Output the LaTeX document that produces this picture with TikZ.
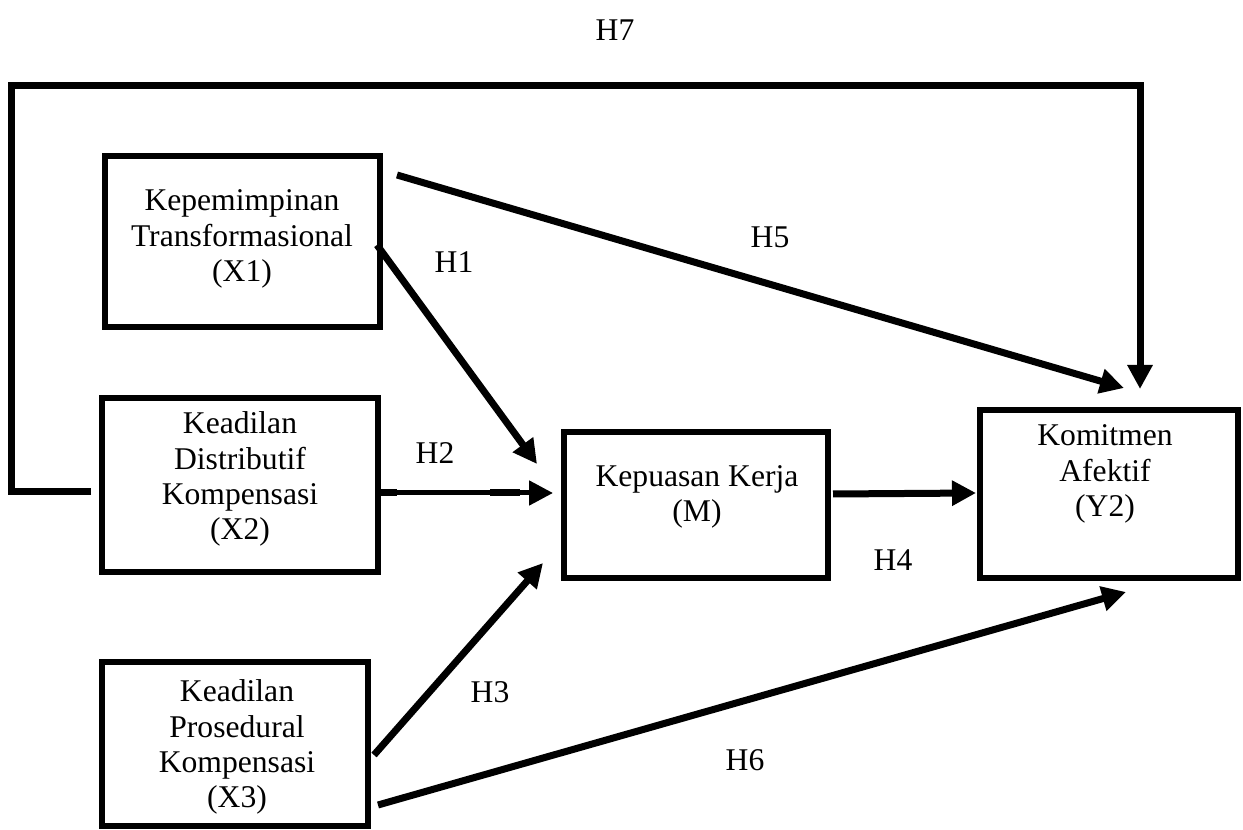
\documentclass[tikz,border=0pt]{standalone}
\usepackage{fontspec}
\setmainfont{Liberation Serif}
\usetikzlibrary{arrows.meta}
\begin{document}
\begin{tikzpicture}[x=0.02cm,y=-0.02cm,
  box/.style={draw, line width=6*0.02cm, inner sep=0pt, align=center},
  lbl/.style={font=\fontsize{18}{20}\selectfont},
  conn/.style={line width=7*0.02cm, -{Triangle[length=24*0.02cm, width=24*0.02cm]}},
  plain/.style={line width=7*0.02cm}]
\useasboundingbox (0,0) rectangle (1243,830);
% boxes
\node[box, minimum width=275*0.02cm, minimum height=171*0.02cm] (x1) at (242,242) {};
\node[lbl, align=center] (tx1) at (242,239) {Kepemimpinan\\Transformasional\\(X1)};
\node[box, minimum width=276*0.02cm, minimum height=174*0.02cm] (x2) at (240,485) {};
\node[lbl, align=center] (tx2) at (240,479) {Keadilan\\Distributif\\Kompensasi\\(X2)};
\node[box, minimum width=266*0.02cm, minimum height=164*0.02cm] (x3) at (235,744) {};
\node[lbl, align=center] (tx3) at (237,747) {Keadilan\\Prosedural\\Kompensasi\\(X3)};
\node[box, minimum width=264*0.02cm, minimum height=146*0.02cm] (m) at (696,505) {};
\node[lbl, align=center] (tm) at (697,497) {Kepuasan Kerja\\(M)};
\node[box, minimum width=258*0.02cm, minimum height=168*0.02cm] (y2) at (1109,494) {};
\node[lbl, align=center] (ty2) at (1105,474) {Komitmen\\Afektif\\(Y2)};
% labels
\node[lbl] (h7) at (615,30) {H7};
\node[lbl] (h5) at (770,237) {H5};
\node[lbl] (h1) at (454,262) {H1};
\node[lbl] (h2) at (435,453) {H2};
\node[lbl] (h4) at (893,560) {H4};
\node[lbl] (h3) at (490,692) {H3};
\node[lbl] (h6) at (745,760) {H6};
% endpoints
\coordinate (h5s) at (397,175);
\coordinate (h5e) at (1124,388);
\coordinate (h1s) at (377,245);
\coordinate (h1e) at (537,464);
\coordinate (h2s) at (377,493);
\coordinate (h2e) at (553,493);
\coordinate (h3s) at (374,755);
\coordinate (h3e) at (543,563);
\coordinate (h6s) at (378,805);
\coordinate (h6e) at (1126,592);
\coordinate (h4s) at (833,494);
\coordinate (h4e) at (976,493);
\coordinate (h7s) at (91,492);
\coordinate (h7a) at (11,492);
\coordinate (h7b) at (11,86);
\coordinate (h7c) at (1140,86);
\coordinate (h7e) at (1140,389);
% connectors
\draw[conn] (h5s) -- (h5e);
\draw[conn] (h1s) -- (h1e);
\draw[conn, line width=5*0.02cm] (h2s) -- (h2e);
\draw[plain] (h2s) -- ++(20,0);
\draw[plain] (490,493) -- ++(30,0);
\draw[conn] (h3s) -- (h3e);
\draw[conn] (h6s) -- (h6e);
\draw[conn] (h4s) -- (h4e);
\draw[conn, line join=miter] (h7s) -- (h7a) -- (h7b) -- (h7c) -- (h7e);
\end{tikzpicture}
\end{document}
